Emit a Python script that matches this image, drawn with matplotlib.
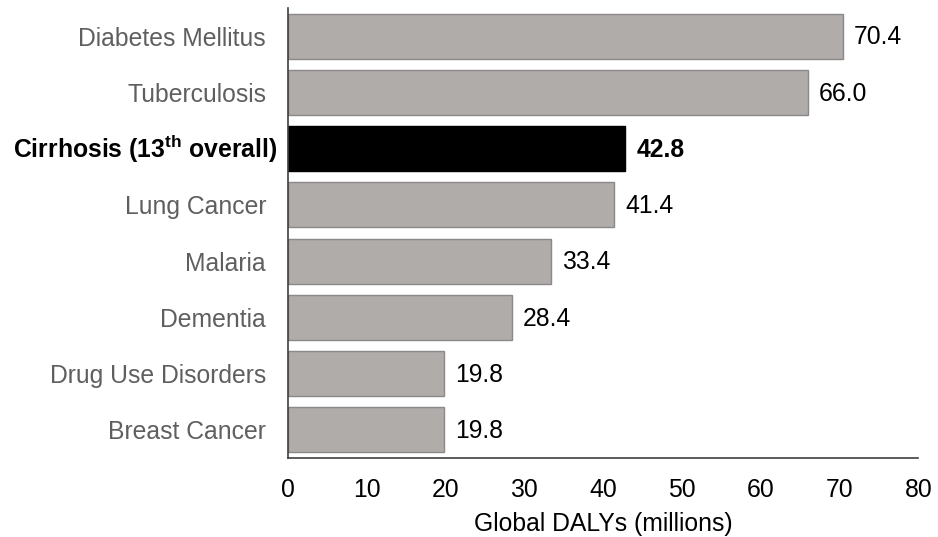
import matplotlib
matplotlib.use("Agg")
import matplotlib.pyplot as plt
from matplotlib.transforms import blended_transform_factory, ScaledTranslation

plt.rcParams["font.family"] = ["Liberation Sans", "DejaVu Sans"]
plt.rcParams["mathtext.fontset"] = "custom"
plt.rcParams["mathtext.rm"] = "Liberation Sans"
plt.rcParams["mathtext.bf"] = "Liberation Sans:bold"

categories = ["Diabetes Mellitus", "Tuberculosis", r"Cirrhosis (13$^{\mathbf{th}}$ overall)",
              "Lung Cancer", "Malaria", "Dementia", "Drug Use Disorders", "Breast Cancer"]
values = [70.4, 66.0, 42.8, 41.4, 33.4, 28.4, 19.8, 19.8]
highlight = 2
x_ticks = [0, 10, 20, 30, 40, 50, 60, 70, 80]

FS = 17.8

fig = plt.figure(figsize=(9.38, 5.37), dpi=100)
ax = fig.add_axes([0.307, 0.147, 0.672, 0.838])

ypos = list(range(len(categories)))
colors = ["black" if i == highlight else "#b0acaa" for i in ypos]
edges = ["black" if i == highlight else "#8c8888" for i in ypos]
ax.barh(ypos, values, height=0.8, color=colors, edgecolor=edges, linewidth=1.0)

for i, v in enumerate(values):
    bold = i == highlight
    ax.text(v + 1.4, i + 0.02, f"{v:.1f}", va="center", ha="left", fontsize=FS,
            color="black", fontweight="bold" if bold else "normal")

ax.set_ylim(len(categories) - 0.5, -0.5)
ax.set_xlim(0, 80)
ax.set_xticks(x_ticks)
ax.set_yticks(ypos)
# category labels: grey ones via the tick labels, the highlighted one drawn separately
ax.set_yticklabels(["" if i == highlight else c for i, c in enumerate(categories)])
for lab in ax.get_yticklabels():
    lab.set_color("#5f5f5f")
    lab.set_fontsize(FS)
ax.tick_params(axis="y", length=0, pad=15.8)

trans = blended_transform_factory(ax.transAxes, ax.transData) + \
    ScaledTranslation(-11 / 100, 0, fig.dpi_scale_trans)
ax.text(0, highlight, categories[highlight], transform=trans, ha="right", va="center",
        fontsize=FS, fontweight="bold", color="black")

ax.tick_params(axis="x", length=0, pad=14.5, labelsize=FS, labelcolor="black")
ax.set_xlabel("Global DALYs (millions)", fontsize=FS)
ax.xaxis.set_label_coords(0.5, -0.12)

for s in ["top", "right"]:
    ax.spines[s].set_visible(False)
for s in ["left", "bottom"]:
    ax.spines[s].set_color("#404040")
    ax.spines[s].set_linewidth(1.2)

fig.savefig("out.png", dpi=100)
